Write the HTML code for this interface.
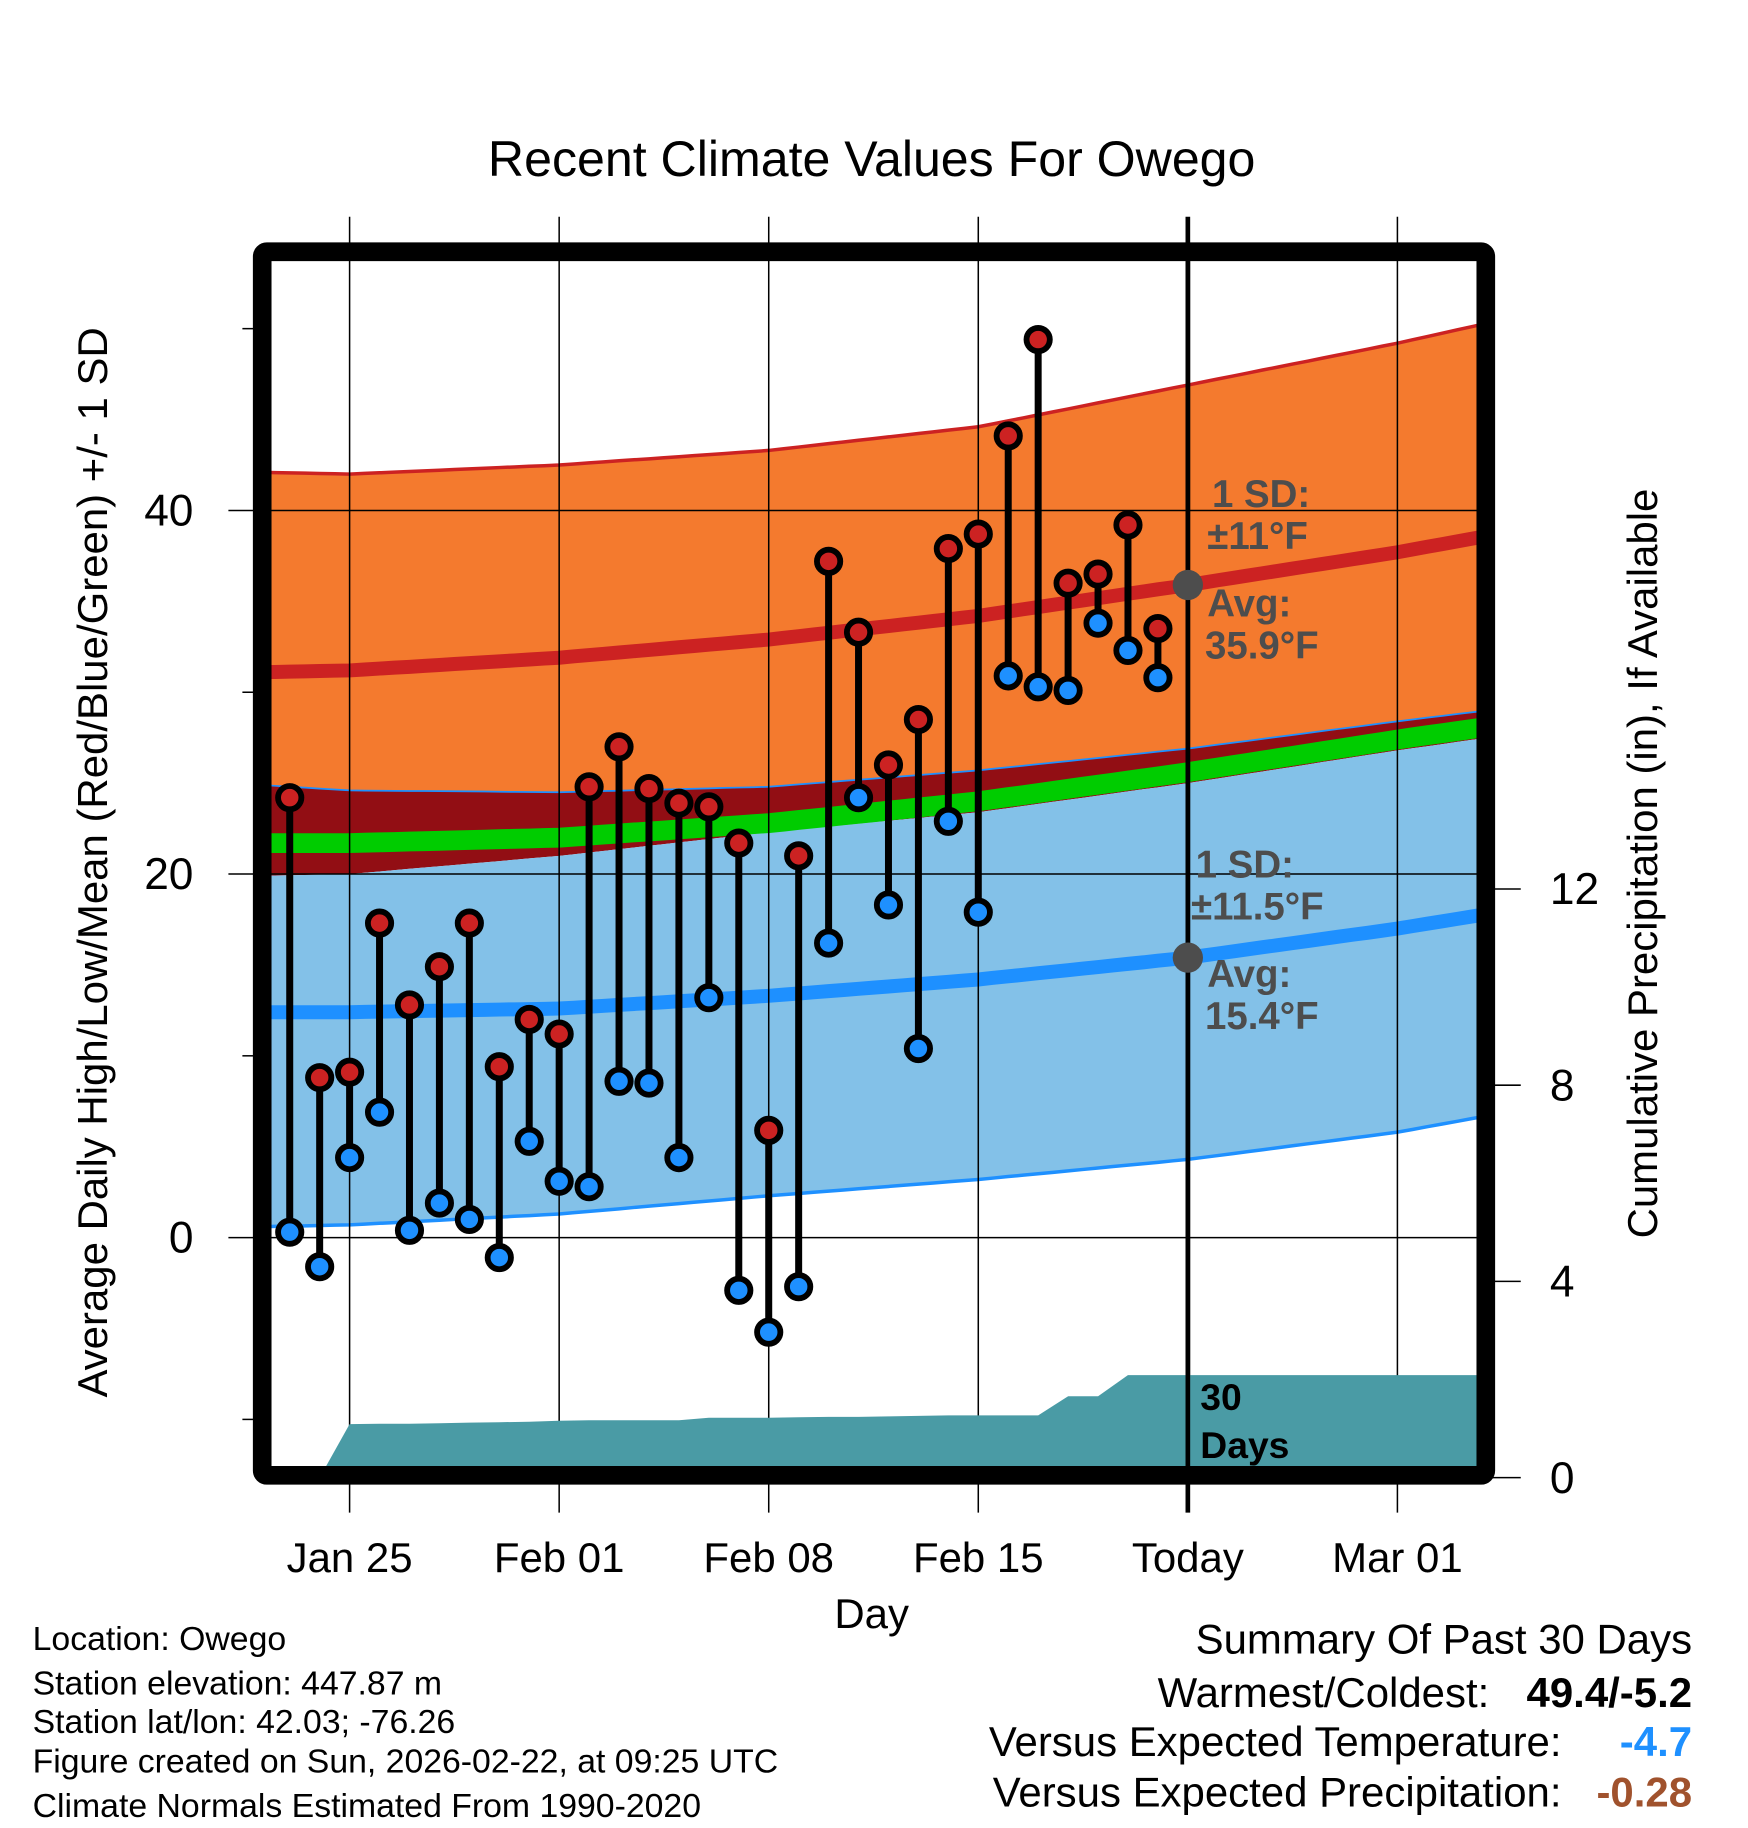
<!DOCTYPE html>
<html><head><meta charset="utf-8"><style>
html,body{margin:0;padding:0;background:#fff;}
svg{display:block;font-family:"Liberation Sans",sans-serif;}
</style></head><body>
<svg id="chart" width="1748" height="1828" viewBox="0 0 1500 1568.6" xmlns="http://www.w3.org/2000/svg">
<defs><clipPath id="plotclip"><rect x="232" y="224" width="1036" height="1035"/></clipPath></defs>
<rect width="1500" height="1568.6" fill="#fff"/>
<text x="748" y="151" font-size="43" text-anchor="middle">Recent Climate Values For Owego</text>
<g id="bands" clip-path="url(#plotclip)"></g>
<g id="grid"></g>
<g id="precip" clip-path="url(#plotclip)"></g>
<g id="marks"></g>
<g id="axes"></g>
<g font-weight="bold" fill="#4d4d4d" font-size="33">
<text x="1040" y="435">1 SD:</text>
<text x="1036" y="471">±11°F</text>
<text x="1036" y="529">Avg:</text>
<text x="1034" y="565">35.9°F</text>
<text x="1026" y="753">1 SD:</text>
<text x="1022" y="789">±11.5°F</text>
<text x="1036" y="847">Avg:</text>
<text x="1034" y="883">15.4°F</text>
</g>
<g font-weight="bold" fill="#000" font-size="32">
<text x="1030" y="1210">30</text><text x="1030" y="1251">Days</text>
</g>
<rect x="225" y="216" width="1050" height="1050" fill="none" stroke="#000" stroke-width="16" rx="4"/>
<text x="748" y="1397" font-size="36" text-anchor="middle">Day</text>
<text transform="translate(92,740) rotate(-90)" font-size="36" text-anchor="middle">Average Daily High/Low/Mean (Red/Blue/Green) +/- 1 SD</text>
<text transform="translate(1422,741) rotate(-90)" font-size="36" text-anchor="middle">Cumulative Precipitation (in), If Available</text>
<g font-size="29">
<text x="28" y="1416">Location: Owego</text>
<text x="28" y="1454">Station elevation: 447.87 m</text>
<text x="28" y="1487">Station lat/lon: 42.03; -76.26</text>
<text x="28" y="1521">Figure created on Sun, 2026-02-22, at 09:25 UTC</text>
<text x="28" y="1559">Climate Normals Estimated From 1990-2020</text>
</g>
<g font-size="36" text-anchor="end">
<text x="1452" y="1419">Summary Of Past 30 Days</text>
<text x="1278" y="1465">Warmest/Coldest:</text>
<text x="1452" y="1465" font-weight="bold">49.4/-5.2</text>
<text x="1340" y="1507">Versus Expected Temperature:</text>
<text x="1452" y="1507" font-weight="bold" fill="#1e90ff">-4.7</text>
<text x="1340" y="1550">Versus Expected Precipitation:</text>
<text x="1452" y="1550" font-weight="bold" fill="#a0522d">-0.28</text>
</g>
</svg>
<script>
const normDays=[-3,0,7,14,21,28,35,38];
const hiUp=[42.1,42.0,42.5,43.3,44.6,46.9,49.2,50.3];
const hiMean=[31.1,31.2,31.9,32.9,34.2,35.9,37.7,38.6];
const hiLow=[24.9,24.6,24.5,24.8,25.7,26.9,28.4,29.0];
const loUp=[19.9,20.0,21.0,22.3,23.4,25.0,26.8,27.5];
const loMean=[12.4,12.4,12.6,13.3,14.2,15.4,17.0,17.8];
const loLow=[0.6,0.7,1.3,2.3,3.2,4.3,5.8,6.7];
const dayMean=[21.7,21.7,22.0,22.8,24.0,25.6,27.4,28.1];
// daily observations Jan 23 (day -2) .. Feb 21 (day 27)
const highs=[24.2,8.8,9.1,17.3,12.8,14.9,17.3,9.4,12.0,11.2,24.8,27.0,24.7,23.9,23.7,21.7,5.9,21.0,37.2,33.3,26.0,28.5,37.9,38.7,44.1,49.4,36.0,36.5,39.2,33.5];
const lows=[0.3,-1.6,4.4,6.9,0.4,1.9,1.0,-1.1,5.3,3.1,2.8,8.6,8.5,4.4,13.2,-2.9,-5.2,-2.7,16.2,24.2,18.3,10.4,22.9,17.9,30.9,30.3,30.1,33.8,32.3,30.8];
const precip=[0,0,1.09,1.10,1.10,1.11,1.12,1.13,1.14,1.16,1.17,1.17,1.17,1.17,1.22,1.22,1.22,1.23,1.24,1.24,1.25,1.26,1.27,1.27,1.27,1.27,1.66,1.66,2.09,2.09];
const xTickDays=[0,7,14,21,28,35];
const xTickLabels=["Jan 25","Feb 01","Feb 08","Feb 15","Today","Mar 01"];
const yTicks=[0,20,40];
const yMinor=[-10,10,30,50];
const pTicks=[0,4,8,12];
const firstDay=-2, todayDay=28, endDay=37.7;

const NS="http://www.w3.org/2000/svg";
const X=d=>300+25.69*d;
const Y=v=>1062-15.6*v;
const P=p=>1268-42.1*p;
function mk(tag,attrs,parent){const e=document.createElementNS(NS,tag);for(const k in attrs)e.setAttribute(k,attrs[k]);parent.appendChild(e);return e;}
function interp(arr,d){for(let i=0;i<normDays.length-1;i++){if(d<=normDays[i+1]){const t=(d-normDays[i])/(normDays[i+1]-normDays[i]);return arr[i]+t*(arr[i+1]-arr[i]);}}return arr[arr.length-1];}
const samples=[];for(let d=-3;d<=38.01;d+=0.5)samples.push(d);
function linePts(arr){return samples.map(d=>X(d).toFixed(1)+","+Y(interp(arr,d)).toFixed(1));}
function bandPath(a,b){const top=linePts(a),bot=linePts(b).reverse();return "M"+top.join("L")+"L"+bot.join("L")+"Z";}
const bands=document.getElementById('bands');
let e;
e=mk('path',{d:bandPath(hiUp,hiLow),fill:'#f47a2e'},bands);


e=mk('path',{d:bandPath(hiLow,loUp),fill:'#920e14'},bands);


e=mk('path',{d:bandPath(loUp,loLow),fill:'#83c1e8'},bands);


e=mk('polyline',{points:linePts(hiUp).join(" "),fill:'none',stroke:'#cc2222','stroke-width':3},bands);


e=mk('polyline',{points:linePts(hiLow).join(" "),fill:'none',stroke:'#1e90ff','stroke-width':1.5},bands);


e=mk('polyline',{points:linePts(loLow).join(" "),fill:'none',stroke:'#1e90ff','stroke-width':3},bands);


e=mk('polyline',{points:linePts(dayMean).join(" "),fill:'none',stroke:'#00cc00','stroke-width':17},bands);


e=mk('polyline',{points:linePts(hiMean).join(" "),fill:'none',stroke:'#cc2222','stroke-width':12},bands);


e=mk('polyline',{points:linePts(loMean).join(" "),fill:'none',stroke:'#1e90ff','stroke-width':12},bands);



const grid=document.getElementById('grid');
xTickDays.forEach(d=>{e=mk('line',{x1:X(d),x2:X(d),y1:186,y2:1298,stroke:'#000','stroke-width':d===todayDay?4:1.3},grid);

});
yTicks.forEach(v=>{e=mk('line',{x1:196,x2:1268,y1:Y(v),y2:Y(v),stroke:'#000','stroke-width':1.3},grid);

});

const pr=document.getElementById('precip');
let pts=[];precip.forEach((p,i)=>pts.push(X(firstDay+i).toFixed(1)+","+P(p).toFixed(1)));
pts.push(X(endDay)+","+P(precip[precip.length-1]));pts.push(X(endDay)+","+1270);pts.push(X(firstDay)+","+1270);
e=mk('polygon',{points:pts.join(" "),fill:'#4a9ba5'},pr);



const marks=document.getElementById('marks');
e=mk('line',{x1:X(todayDay),x2:X(todayDay),y1:224,y2:1259,stroke:'#000','stroke-width':4},marks);


highs.forEach((h,i)=>{const x=X(firstDay+i);
e=mk('line',{x1:x,x2:x,y1:Y(h),y2:Y(lows[i]),stroke:'#000','stroke-width':6},marks);

});
highs.forEach((h,i)=>{const x=X(firstDay+i);
e=mk('circle',{cx:x,cy:Y(h),r:10,fill:'#cc2222',stroke:'#000','stroke-width':5},marks);


e=mk('circle',{cx:x,cy:Y(lows[i]),r:10,fill:'#1e90ff',stroke:'#000','stroke-width':5},marks);

});
e=mk('circle',{cx:X(todayDay),cy:Y(interp(hiMean,todayDay)),r:13,fill:'#4d4d4d'},marks);


e=mk('circle',{cx:X(todayDay),cy:Y(interp(loMean,todayDay)),r:13,fill:'#4d4d4d'},marks);



const ax=document.getElementById('axes');
xTickDays.forEach((d,i)=>{e=mk('text',{x:X(d),y:1349,'font-size':36,'text-anchor':'middle'},ax);e.textContent=xTickLabels[i];

});
yTicks.forEach(v=>{e=mk('text',{x:166,y:Y(v)+13,'font-size':38,'text-anchor':'end'},ax);e.textContent=v;

});
yMinor.forEach(v=>{e=mk('line',{x1:208,x2:220,y1:Y(v),y2:Y(v),stroke:'#000','stroke-width':1.3},ax);

});
pTicks.forEach(p=>{e=mk('line',{x1:1280,x2:1305,y1:P(p),y2:P(p),stroke:'#000','stroke-width':1.3},ax);


e=mk('text',{x:1330,y:P(p)+13,'font-size':38},ax);e.textContent=p;

});
</script>
</body></html>
